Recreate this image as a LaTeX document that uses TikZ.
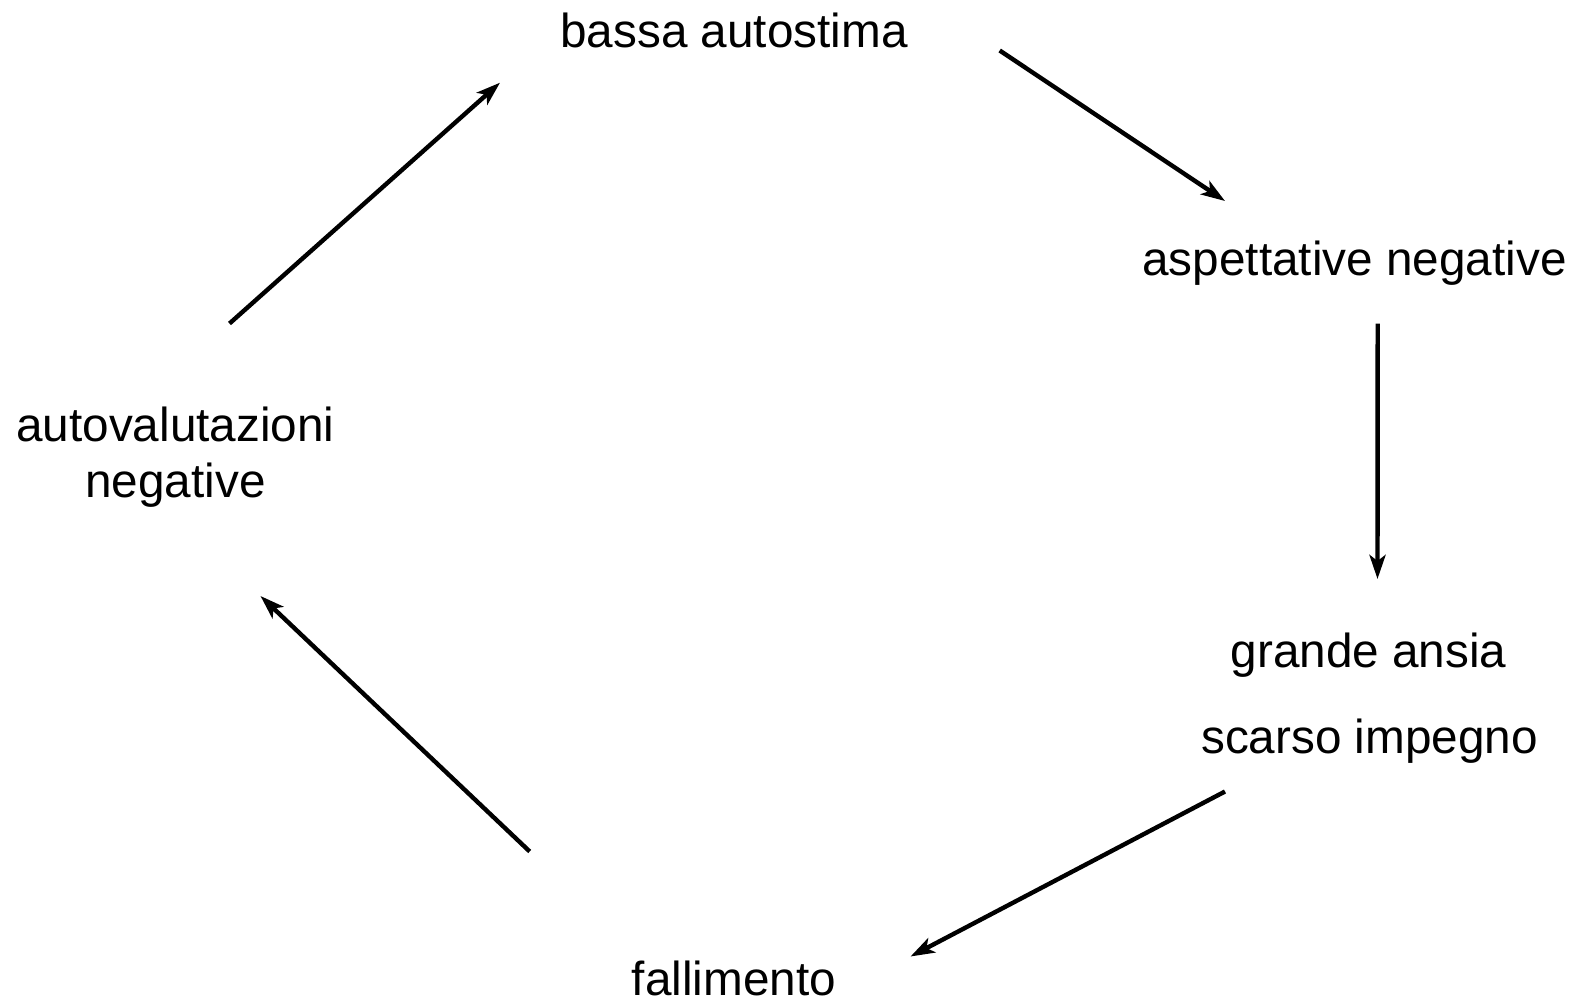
\documentclass[tikz,border=0pt]{standalone}
\usepackage{fontspec}
\setmainfont{Liberation Sans}
\usetikzlibrary{arrows.meta}
\begin{document}
\begin{tikzpicture}[x=1pt,y=-1pt,
  lbl/.style={inner sep=0pt, font=\fontsize{47.7}{56.3}\selectfont, text=black},
  arr/.style={line width=4.4pt, -{Stealth[length=24pt,width=16pt,inset=6pt]}}]
\useasboundingbox[fill=white] (0,0) rectangle (1585,1001);
\node[lbl, anchor=base] (bassa) at (734,47.5) {bassa autostima};
\node[lbl, anchor=base] (asp) at (1354.5,275) {aspettative negative};
\node[lbl, anchor=base] (ansia) at (1368.6,667) {grande ansia};
\node[lbl, anchor=base] (scarso) at (1369.6,753) {scarso impegno};
\node[lbl, anchor=base] (fall) at (734,995.5) {fallimento};
\node[lbl, anchor=north, align=center] (auto) at (175.4,406.5) {autovalutazioni\\negative};
\draw[arr] ([shift={(54.1,-83)}]auto.north) -- ([shift={(-234,35.2)}]bassa.base);
\draw[arr] ([shift={(265.7,3)}]bassa.base) -- ([shift={(-129.5,-74)}]asp.base);
\draw[arr] ([shift={(23.2,48.5)}]asp.base) -- ([shift={(8.9,-88)}]ansia.base);
\draw[arr] ([shift={(-144.6,38.5)}]scarso.base) -- ([shift={(176.5,-39)}]fall.base);
\draw[arr] ([shift={(-204.3,-144)}]fall.base) -- ([shift={(85.1,189.5)}]auto.north);
\end{tikzpicture}
\end{document}
